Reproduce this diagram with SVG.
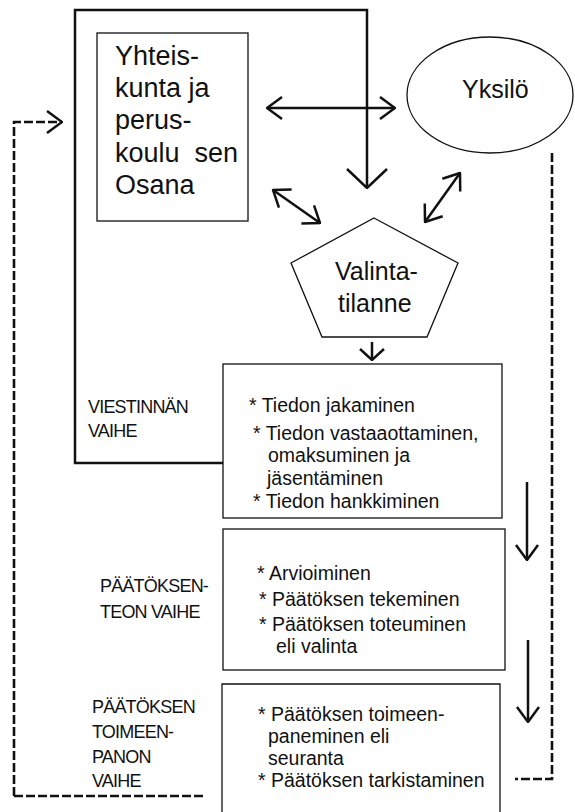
<svg xmlns="http://www.w3.org/2000/svg" width="575" height="812" viewBox="0 0 575 812">
<style>
.t{font-family:"Liberation Sans",Arial,sans-serif;fill:#111}
.big{font-size:27px}
.mid{font-size:25px}
.lbl{font-size:18px;letter-spacing:-0.8px}
.txt{font-size:19.5px}
.box{fill:none;stroke:#111;stroke-width:1.3}
.ln{fill:none;stroke:#111;stroke-width:2.5}
.dash{fill:none;stroke:#111;stroke-width:2.6;stroke-dasharray:9 3}
</style>
<defs>
<marker id="a" viewBox="0 0 18 26" refX="17" refY="13" markerWidth="18" markerHeight="26" markerUnits="userSpaceOnUse" orient="auto-start-reverse">
<path d="M2,2 L17,13 L2,24" fill="none" stroke="#111" stroke-width="2.5"/>
</marker>
<marker id="b" viewBox="0 0 22 44" refX="21" refY="22" markerWidth="22" markerHeight="44" markerUnits="userSpaceOnUse" orient="auto">
<path d="M2,2 L21,22 L2,42" fill="none" stroke="#111" stroke-width="2.5"/>
</marker>
<marker id="s" viewBox="0 0 14 28" refX="13" refY="14" markerWidth="14" markerHeight="28" markerUnits="userSpaceOnUse" orient="auto">
<path d="M2,2 L13,14 L2,26" fill="none" stroke="#111" stroke-width="2.5"/>
</marker>
</defs>
<g id="connectors">
<path class="ln" d="M223,463 H75 V10 H367 V188" marker-end="url(#b)"/>
<line class="ln" x1="267" y1="108" x2="395" y2="108" marker-start="url(#a)" marker-end="url(#a)"/>
<line class="ln" x1="273" y1="190" x2="320" y2="223" marker-start="url(#a)" marker-end="url(#a)"/>
<line class="ln" x1="425" y1="222" x2="460" y2="173" marker-start="url(#a)" marker-end="url(#a)"/>
<line class="ln" x1="372" y1="342" x2="372" y2="360" marker-end="url(#s)"/>
<line class="ln" x1="527" y1="482" x2="527" y2="560" marker-end="url(#a)"/>
<line class="ln" x1="528" y1="640" x2="528" y2="722" marker-end="url(#a)"/>
<path class="dash" d="M14,796 V122 H62" marker-end="url(#a)"/>
<path class="dash" d="M14,796 H203"/>
<path class="dash" d="M552,153 V779 H515"/>
</g>
<g id="yhteiskunta">
<rect class="box" x="97" y="33" width="151" height="188"/>
<text class="t big" x="115" y="65">Yhteis-</text>
<text class="t big" x="115" y="97">kunta ja</text>
<text class="t big" x="115" y="129">perus-</text>
<text class="t big" x="115" y="162" xml:space="preserve">koulu  sen</text>
<text class="t big" x="115" y="194">Osana</text>
</g>
<g id="yksilo">
<ellipse class="box" cx="490" cy="95" rx="83" ry="58"/>
<text class="t mid" x="462" y="98">Yksilö</text>
</g>
<g id="valintatilanne">
<polygon class="box" points="374,218 458,263 427,337 322,337 291,263"/>
<text class="t mid" x="335" y="280">Valinta-</text>
<text class="t mid" x="338" y="312">tilanne</text>
</g>
<g id="viestinnan-vaihe">
<text class="t lbl" x="88" y="413">VIESTINNÄN</text>
<text class="t lbl" x="88" y="437">VAIHE</text>
</g>
<g id="box-viestinta">
<rect class="box" x="223" y="364" width="279" height="154"/>
<text class="t txt" x="249" y="412">* Tiedon jakaminen</text>
<text class="t txt" x="253" y="440">* Tiedon vastaaottaminen,</text>
<text class="t txt" x="268" y="462">omaksuminen ja</text>
<text class="t txt" x="267" y="485">jäsentäminen</text>
<text class="t txt" x="253" y="508">* Tiedon hankkiminen</text>
</g>
<g id="paatoksenteon-vaihe">
<text class="t lbl" x="100" y="592">PÄÄTÖKSEN-</text>
<text class="t lbl" x="100" y="618">TEON VAIHE</text>
</g>
<g id="box-paatoksenteko">
<rect class="box" x="223" y="529" width="282" height="141"/>
<text class="t txt" x="257" y="580">* Arvioiminen</text>
<text class="t txt" x="259" y="606">* Päätöksen tekeminen</text>
<text class="t txt" x="259" y="631">* Päätöksen toteuminen</text>
<text class="t txt" x="276" y="653">eli valinta</text>
</g>
<g id="toimeenpanon-vaihe">
<text class="t lbl" x="92" y="713">PÄÄTÖKSEN</text>
<text class="t lbl" x="92" y="738">TOIMEEN-</text>
<text class="t lbl" x="92" y="763">PANON</text>
<text class="t lbl" x="92" y="787">VAIHE</text>
</g>
<g id="box-toimeenpano">
<path class="box" d="M222,812 V684 H500 V812"/>
<text class="t txt" x="258" y="721">* Päätöksen toimeen-</text>
<text class="t txt" x="268" y="743">paneminen eli</text>
<text class="t txt" x="268" y="765">seuranta</text>
<text class="t txt" x="258" y="787">* Päätöksen tarkistaminen</text>
</g>
</svg>
